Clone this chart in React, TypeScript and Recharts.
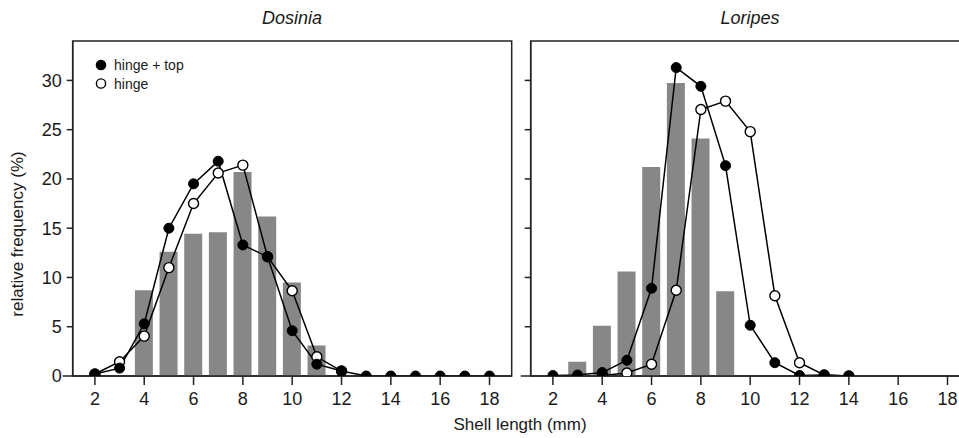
import React from "react";
import {
  ComposedChart,
  Bar,
  Line,
  XAxis,
  YAxis,
  ReferenceArea,
} from "recharts";

// ── Data ─────────────────────────────────────────────────────

const shellLengths = [2, 3, 4, 5, 6, 7, 8, 9, 10, 11, 12, 13, 14, 15, 16, 17, 18];
const xTicks = [2, 4, 6, 8, 10, 12, 14, 16, 18];
const yTicks = [0, 5, 10, 15, 20, 25, 30];
const legendLabels = ["hinge + top", "hinge"];

// Dosinia (left panel), values in %, indexed by shellLengths; null = no mark
const dosiniaBars = [null, null, 8.7, 12.6, 14.45, 14.6, 20.7, 16.2, 9.5, 3.1, null, null, null, null, null, null, null];
const dosiniaHingeTop = [0.2, 0.8, 5.3, 15.0, 19.5, 21.8, 13.3, 12.1, 4.6, 1.2, 0.5, 0, 0, 0, 0, 0, 0];
const dosiniaHinge = [0.2, 1.45, 4.05, 11.0, 17.5, 20.6, 21.4, 12.1, 8.65, 1.95, 0.5, null, null, null, null, null, null];

// Loripes (right panel)
const loripesBars = [null, 1.45, 5.1, 10.6, 21.2, 29.75, 24.1, 8.6, null, null, null, null, null, null, null, null, null];
const loripesHingeTop = [0.05, 0.1, 0.35, 1.6, 8.9, 31.3, 29.4, 21.35, 5.15, 1.35, 0.05, 0.1, 0, null, null, null, null];
const loripesHinge = [null, null, 0.05, 0.3, 1.2, 8.7, 27.05, 27.9, 24.8, 8.15, 1.35, 0.1, 0, null, null, null, null];

const buildRows = (bars: (number | null)[], top: (number | null)[], hinge: (number | null)[]) =>
  shellLengths.map((len, i) => ({ len, bar: bars[i], top: top[i], hinge: hinge[i] }));

// ── Styles ───────────────────────────────────────────────────

const FONT = "'Liberation Sans', Arial, sans-serif";
const INK = "#1a1a1a";
const AXIS = { stroke: "#222", strokeWidth: 1.5 };
const X_DOMAIN: [number, number] = [1.1, 18.9];
const Y_DOMAIN: [number, number] = [0, 34];
const Y_TICK = 6;
const Y_MARGIN = 5;
const Y_AXIS_W = 72.7;
const TICK_FONT = 18;

const makeYTick = (showLabel: boolean) => (props: any) => {
  const { x, y, payload } = props;
  const axisX = x + Y_TICK + Y_MARGIN;
  const len = payload.value === 0 ? 10 : Y_TICK;
  return (
    <g>
      <line x1={axisX - len} x2={axisX} y1={y} y2={y} stroke="#222" strokeWidth={1.5} />
      {showLabel && (
        <text x={x} y={y} dy="0.355em" textAnchor="end" fill={INK} fontSize={TICK_FONT} fontFamily={FONT}>
          {payload.value}
        </text>
      )}
    </g>
  );
};

function SeriesLegend() {
  const fills = ["#000", "#fff"];
  return (
    <svg
      width={120}
      height={40}
      style={{ position: "absolute", left: 95, top: 59, overflow: "visible" }}
    >
      {legendLabels.map((label, i) => (
        <g key={label}>
          <circle cx={6} cy={6 + i * 18.5} r={4.6} fill={fills[i]} stroke="#000" strokeWidth={1.4} />
          <text x={19} y={6 + i * 18.5} dy="0.36em" fontSize={14} fill={INK} fontFamily={FONT}>
            {label}
          </text>
        </g>
      ))}
    </svg>
  );
}

// ── Panel ────────────────────────────────────────────────────

interface PanelProps {
  readonly rows: ReturnType<typeof buildRows>;
  readonly showYLabels: boolean;
}

function Panel({ rows, showYLabels }: PanelProps) {
  return (
    <ComposedChart
      width={520}
      height={438}
      data={rows}
      margin={{ top: 41, right: 8.3, bottom: 32, left: 0 }}
    >
      <XAxis
        dataKey="len"
        type="number"
        domain={X_DOMAIN}
        ticks={xTicks}
        allowDataOverflow
        height={30}
        axisLine={AXIS}
        tickLine={AXIS}
        tickSize={9}
        tickMargin={7}
        tick={{ fill: INK, fontSize: TICK_FONT, fontFamily: FONT }}
      />
      <YAxis
        type="number"
        domain={Y_DOMAIN}
        ticks={yTicks}
        allowDataOverflow
        width={Y_AXIS_W}
        axisLine={AXIS}
        tickLine={false}
        tickSize={Y_TICK}
        tickMargin={Y_MARGIN}
        tick={makeYTick(showYLabels)}
      />
      <ReferenceArea
        x1={X_DOMAIN[0]}
        x2={X_DOMAIN[1]}
        y1={Y_DOMAIN[0]}
        y2={Y_DOMAIN[1]}
        fill="none"
        stroke="#222"
        strokeWidth={1.5}
      />
      <Bar dataKey="bar" fill="#878787" barSize={18} isAnimationActive={false} />
      <Line
        dataKey="hinge"
        stroke="#000"
        strokeWidth={1.5}
        dot={{ r: 5, fill: "#fff", stroke: "#000", strokeWidth: 1.4 }}
        activeDot={false}
        isAnimationActive={false}
      />
      <Line
        dataKey="top"
        stroke="#000"
        strokeWidth={1.5}
        dot={{ r: 5, fill: "#000", stroke: "#000", strokeWidth: 1 }}
        activeDot={false}
        isAnimationActive={false}
      />
    </ComposedChart>
  );
}

// ── App ──────────────────────────────────────────────────────

export default function App() {
  const dosinia = buildRows(dosiniaBars, dosiniaHingeTop, dosiniaHinge);
  const loripes = buildRows(loripesBars, loripesHingeTop, loripesHinge);

  const title: React.CSSProperties = {
    position: "absolute",
    top: 8,
    fontFamily: FONT,
    fontStyle: "italic",
    fontSize: 18,
    color: INK,
    transform: "translateX(-50%)",
    whiteSpace: "nowrap",
  };

  return (
    <div
      style={{
        position: "absolute",
        left: 0,
        top: 0,
        width: 959,
        height: 438,
        overflow: "hidden",
        background: "#fff",
      }}
    >
      <div style={{ position: "absolute", left: 0, top: 0 }}>
        <Panel rows={dosinia} showYLabels />
      </div>
      <div style={{ position: "absolute", left: 457.6, top: 0 }}>
        <Panel rows={loripes} showYLabels={false} />
      </div>
      <SeriesLegend />
      <div style={{ ...title, left: 292 }}>Dosinia</div>
      <div style={{ ...title, left: 750 }}>Loripes</div>
      <div
        style={{
          position: "absolute",
          left: 18,
          top: 234,
          fontFamily: FONT,
          fontSize: 17,
          color: INK,
          whiteSpace: "nowrap",
          transform: "translate(-50%, -50%) rotate(-90deg)",
        }}
      >
        relative frequency (%)
      </div>
      <div
        style={{
          position: "absolute",
          left: 520,
          top: 415,
          fontFamily: FONT,
          fontSize: 17,
          color: INK,
          whiteSpace: "nowrap",
          transform: "translateX(-50%)",
        }}
      >
        Shell length (mm)
      </div>
    </div>
  );
}
